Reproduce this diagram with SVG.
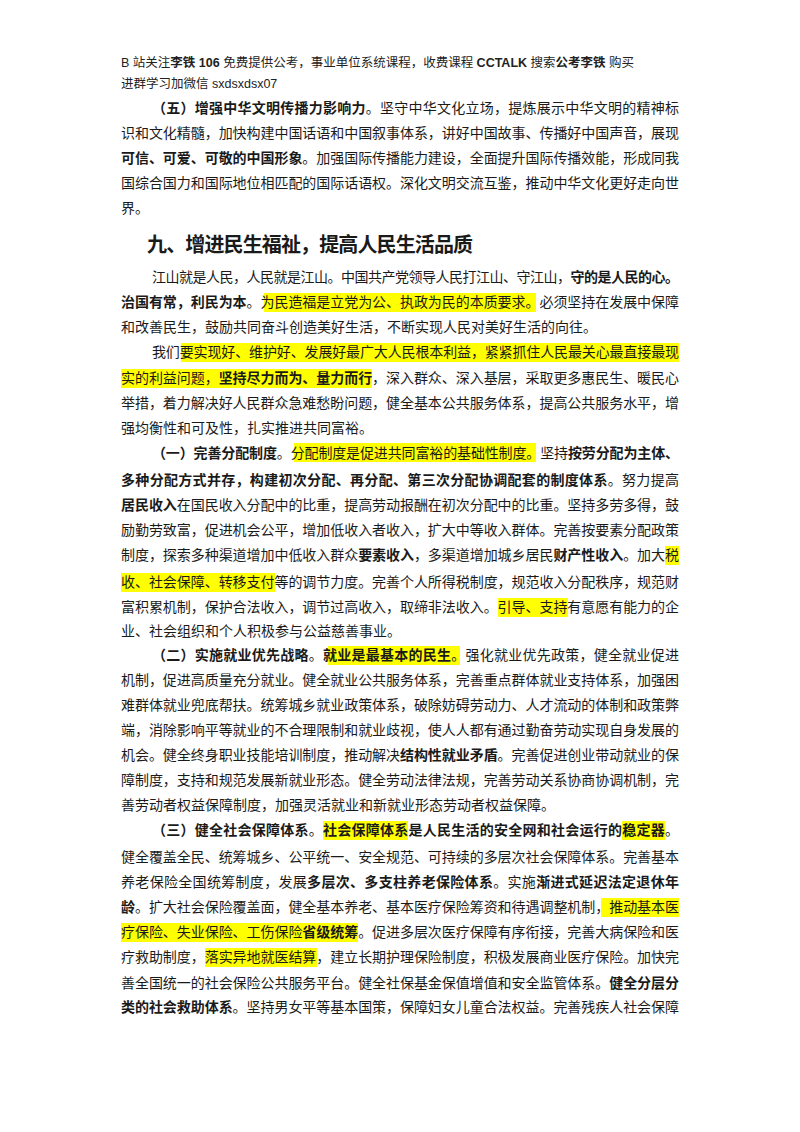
<svg xmlns="http://www.w3.org/2000/svg" width="800" height="1132" viewBox="0 0 800 1132">
<style>
text{font-family:"Noto Sans CJK SC","Liberation Sans",sans-serif;fill:#1a1a1a;font-size:14px}
.hd{font-family:"Liberation Sans","Noto Sans CJK SC",sans-serif;font-size:12.5px;fill:#222}
.b{font-weight:700}
.h1{font-size:20px;font-weight:700}
.hl{fill:#ffff00}
</style>
<rect width="800" height="1132" fill="#fff"/>
<g id="highlights">
<rect class="hl" x="264" y="293" width="272" height="19"/>
<rect class="hl" x="181" y="343" width="498" height="19"/>
<rect class="hl" x="121" y="369" width="251" height="19"/>
<rect class="hl" x="294" y="443" width="242" height="19"/>
<rect class="hl" x="665" y="546" width="14" height="19"/>
<rect class="hl" x="121" y="573" width="154" height="19"/>
<rect class="hl" x="498" y="598" width="70" height="19"/>
<rect class="hl" x="328" y="646" width="132" height="19"/>
<rect class="hl" x="323" y="821" width="85" height="19"/>
<rect class="hl" x="622" y="821" width="43" height="19"/>
<rect class="hl" x="601" y="898" width="78" height="19"/>
<rect class="hl" x="121" y="923" width="237" height="19"/>
<rect class="hl" x="205" y="948" width="112" height="19"/>
</g>
<g id="header">
<text class="hd" x="121" y="67">B 站关注<tspan class="b">李铁 106</tspan> 免费提供公考，事业单位系统课程，收费课程 <tspan class="b">CCTALK</tspan> 搜索<tspan class="b">公考李铁</tspan> 购买</text>
<text class="hd" x="121" y="88">进群学习加微信 sxdsxdsx07</text>
</g>
<g id="para5">
<text x="152" y="113" textLength="527" lengthAdjust="spacing"><tspan class="b">（五）增强中华文明传播力影响力</tspan>。坚守中华文化立场，提炼展示中华文明的精神标</text>
<text x="121" y="138" textLength="558" lengthAdjust="spacing">识和文化精髓，加快构建中国话语和中国叙事体系，讲好中国故事、传播好中国声音，展现</text>
<text x="121" y="163" textLength="558" lengthAdjust="spacing"><tspan class="b">可信、可爱、可敬的中国形象</tspan>。加强国际传播能力建设，全面提升国际传播效能，形成同我</text>
<text x="121" y="188" textLength="558" lengthAdjust="spacing">国综合国力和国际地位相匹配的国际话语权。深化文明交流互鉴，推动中华文化更好走向世</text>
<text x="121" y="213">界。</text>
</g>
<g id="heading">
<text class="h1" x="147" y="252" textLength="326" lengthAdjust="spacing">九、增进民生福祉，提高人民生活品质</text>
</g>
<g id="para-intro">
<text x="152" y="282" textLength="527" lengthAdjust="spacing">江山就是人民，人民就是江山。中国共产党领导人民打江山、守江山，<tspan class="b">守的是人民的心。</tspan></text>
<text x="121" y="307" textLength="558" lengthAdjust="spacing"><tspan class="b">治国有常，利民为本</tspan>。为民造福是立党为公、执政为民的本质要求。必须坚持在发展中保障</text>
<text x="121" y="332">和改善民生，鼓励共同奋斗创造美好生活，不断实现人民对美好生活的向往。</text>
<text x="152" y="357" textLength="527" lengthAdjust="spacing">我们要实现好、维护好、发展好最广大人民根本利益，紧紧抓住人民最关心最直接最现</text>
<text x="121" y="383" textLength="558" lengthAdjust="spacing">实的利益问题，<tspan class="b">坚持尽力而为、量力而行</tspan>，深入群众、深入基层，采取更多惠民生、暖民心</text>
<text x="121" y="408" textLength="558" lengthAdjust="spacing">举措，着力解决好人民群众急难愁盼问题，健全基本公共服务体系，提高公共服务水平，增</text>
<text x="121" y="433">强均衡性和可及性，扎实推进共同富裕。</text>
</g>
<g id="para1">
<text x="152" y="458" textLength="527" lengthAdjust="spacing"><tspan class="b">（一）完善分配制度</tspan>。分配制度是促进共同富裕的基础性制度。坚持<tspan class="b">按劳分配为主体、</tspan></text>
<text x="121" y="485" textLength="558" lengthAdjust="spacing"><tspan class="b">多种分配方式并存，构建初次分配、再分配、第三次分配协调配套的制度体系</tspan>。努力提高</text>
<text x="121" y="510" textLength="558" lengthAdjust="spacing"><tspan class="b">居民收入</tspan>在国民收入分配中的比重，提高劳动报酬在初次分配中的比重。坚持多劳多得，鼓</text>
<text x="121" y="535" textLength="558" lengthAdjust="spacing">励勤劳致富，促进机会公平，增加低收入者收入，扩大中等收入群体。完善按要素分配政策</text>
<text x="121" y="560" textLength="558" lengthAdjust="spacing">制度，探索多种渠道增加中低收入群众<tspan class="b">要素收入</tspan>，多渠道增加城乡居民<tspan class="b">财产性收入</tspan>。加大税</text>
<text x="121" y="587" textLength="558" lengthAdjust="spacing">收、社会保障、转移支付等的调节力度。完善个人所得税制度，规范收入分配秩序，规范财</text>
<text x="121" y="612" textLength="558" lengthAdjust="spacing">富积累机制，保护合法收入，调节过高收入，取缔非法收入。引导、支持有意愿有能力的企</text>
<text x="121" y="636">业、社会组织和个人积极参与公益慈善事业。</text>
</g>
<g id="para2">
<text x="152" y="660" textLength="527" lengthAdjust="spacing"><tspan class="b">（二）实施就业优先战略</tspan>。<tspan class="b">就业是最基本的民生</tspan>。强化就业优先政策，健全就业促进</text>
<text x="121" y="685" textLength="558" lengthAdjust="spacing">机制，促进高质量充分就业。健全就业公共服务体系，完善重点群体就业支持体系，加强困</text>
<text x="121" y="710" textLength="558" lengthAdjust="spacing">难群体就业兜底帮扶。统筹城乡就业政策体系，破除妨碍劳动力、人才流动的体制和政策弊</text>
<text x="121" y="735" textLength="558" lengthAdjust="spacing">端，消除影响平等就业的不合理限制和就业歧视，使人人都有通过勤奋劳动实现自身发展的</text>
<text x="121" y="760" textLength="558" lengthAdjust="spacing">机会。健全终身职业技能培训制度，推动解决<tspan class="b">结构性就业矛盾</tspan>。完善促进创业带动就业的保</text>
<text x="121" y="785" textLength="558" lengthAdjust="spacing">障制度，支持和规范发展新就业形态。健全劳动法律法规，完善劳动关系协商协调机制，完</text>
<text x="121" y="810">善劳动者权益保障制度，加强灵活就业和新就业形态劳动者权益保障。</text>
</g>
<g id="para3">
<text x="152" y="835" textLength="527" lengthAdjust="spacing"><tspan class="b">（三）健全社会保障体系</tspan>。<tspan class="b">社会保障体系是人民生活的安全网和社会运行的稳定器</tspan>。</text>
<text x="121" y="862" textLength="558" lengthAdjust="spacing">健全覆盖全民、统筹城乡、公平统一、安全规范、可持续的多层次社会保障体系。完善基本</text>
<text x="121" y="887" textLength="558" lengthAdjust="spacing">养老保险全国统筹制度，发展<tspan class="b">多层次、多支柱养老保险体系</tspan>。实施<tspan class="b">渐进式延迟法定退休年</tspan></text>
<text x="121" y="912" textLength="558" lengthAdjust="spacing"><tspan class="b">龄</tspan>。扩大社会保险覆盖面，健全基本养老、基本医疗保险筹资和待遇调整机制，推动基本医</text>
<text x="121" y="937" textLength="558" lengthAdjust="spacing">疗保险、失业保险、工伤保险<tspan class="b">省级统筹</tspan>。促进多层次医疗保障有序衔接，完善大病保险和医</text>
<text x="121" y="962" textLength="558" lengthAdjust="spacing">疗救助制度，落实异地就医结算，建立长期护理保险制度，积极发展商业医疗保险。加快完</text>
<text x="121" y="988" textLength="558" lengthAdjust="spacing">善全国统一的社会保险公共服务平台。健全社保基金保值增值和安全监管体系。<tspan class="b">健全分层分</tspan></text>
<text x="121" y="1012" textLength="558" lengthAdjust="spacing"><tspan class="b">类的社会救助体系</tspan>。坚持男女平等基本国策，保障妇女儿童合法权益。完善残疾人社会保障</text>
</g>
</svg>
